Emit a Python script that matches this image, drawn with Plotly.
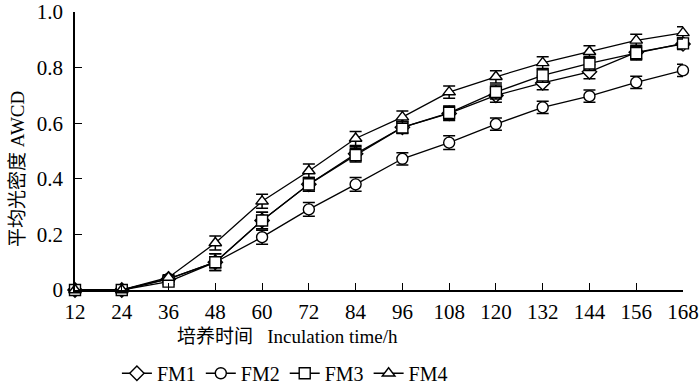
import plotly.graph_objects as go

hours = [12, 24, 36, 48, 60, 72, 84, 96, 108, 120, 132, 144, 156, 168]
fm1 = [0, 0, 0.04, 0.10, 0.25, 0.38, 0.49, 0.585, 0.635, 0.70, 0.745, 0.785, 0.855, 0.885]
fm2 = [0, 0, 0.04, 0.10, 0.19, 0.29, 0.38, 0.472, 0.530, 0.597, 0.657, 0.697, 0.747, 0.790]
fm3 = [0, 0, 0.03, 0.10, 0.25, 0.38, 0.485, 0.585, 0.637, 0.712, 0.772, 0.815, 0.852, 0.887]
fm4 = [0, 0, 0.045, 0.169, 0.319, 0.428, 0.545, 0.622, 0.712, 0.767, 0.817, 0.857, 0.898, 0.925]
err1 = [0, 0, 0.01, 0.03, 0.03, 0.025, 0.025, 0.02, 0.025, 0.025, 0.025, 0.025, 0.025, 0.02]
err2 = [0, 0, 0.01, 0.02, 0.025, 0.025, 0.025, 0.022, 0.025, 0.022, 0.022, 0.022, 0.022, 0.022]
err3 = [0, 0, 0.01, 0.03, 0.03, 0.025, 0.025, 0.022, 0.025, 0.025, 0.025, 0.025, 0.025, 0.02]
err4 = [0, 0, 0.01, 0.025, 0.025, 0.025, 0.025, 0.022, 0.022, 0.022, 0.022, 0.022, 0.022, 0.022]
names = ["FM1", "FM2", "FM3", "FM4"]
symbols = ["diamond", "circle", "square", "triangle-up"]
ytick_vals = [0, 0.2, 0.4, 0.6, 0.8, 1.0]
ytick_text = ["0", "0.2", "0.4", "0.6", "0.8", "1.0"]
x_title = "培养时间   Inculation time/h"
y_title = "平均光密度 AWCD"

FONT = "Liberation Serif, Times New Roman, Noto Sans CJK SC, serif"

fig = go.Figure()
for name, ys, es, sym in zip(names, [fm1, fm2, fm3, fm4], [err1, err2, err3, err4], symbols):
    fig.add_trace(go.Scatter(
        x=hours, y=ys, name=name, mode="lines+markers",
        line=dict(color="black", width=1.3),
        marker=dict(symbol=sym, size=11, color="white",
                    line=dict(color="black", width=1.4)),
        error_y=dict(type="data", array=es, visible=True, color="black",
                     thickness=1.5, width=6),
        cliponaxis=False,
    ))

fig.update_layout(
    width=700, height=388,
    margin=dict(l=75, r=17, t=12, b=98),
    paper_bgcolor="white", plot_bgcolor="white",
    font=dict(family=FONT, size=20, color="black"),
    showlegend=True,
    legend=dict(orientation="h", xref="container", yref="container",
                x=0.407, xanchor="center", y=0.038, yanchor="middle",
                font=dict(size=20, color="black"), tracegroupgap=0,
                itemwidth=30, bgcolor="rgba(0,0,0,0)"),
    xaxis=dict(range=[12, 168], tickmode="array", tickvals=hours,
               ticks="inside", ticklen=7, tickcolor="black", tickwidth=1.3,
               automargin=False, ticklabelstandoff=2,
               showline=True, linecolor="black", linewidth=1.5,
               showgrid=False, zeroline=False, tickfont=dict(color="black", size=21)),
    yaxis=dict(range=[0, 1.0], tickmode="array", tickvals=ytick_vals, ticktext=ytick_text,
               ticks="inside", ticklen=7, tickcolor="black", tickwidth=1.3,
               automargin=False, ticklabelstandoff=6,
               showline=True, linecolor="black", linewidth=1.5,
               showgrid=False, zeroline=False, tickfont=dict(color="black", size=21)),
    annotations=[
        dict(text=x_title, xref="paper", yref="paper", x=0.350, y=-0.168,
             xanchor="center", yanchor="middle", showarrow=False,
             font=dict(size=19, color="black")),
        dict(text=y_title, xref="paper", yref="paper", x=-0.0954, y=0.435,
             xanchor="center", yanchor="middle", showarrow=False, textangle=-90,
             font=dict(size=19, color="black")),
    ],
)

fig.write_html("out.html", post_script="document.body.style.margin='0';",
               config={"displayModeBar": False})
